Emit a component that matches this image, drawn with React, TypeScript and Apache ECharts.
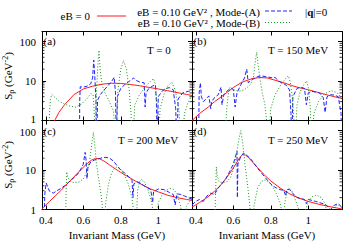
import React, { useEffect, useRef } from "react";
import * as echarts from "echarts";

const FONT = "Liberation Serif, Times New Roman, serif";
const RED = "#ff1a1a";
const BLUE = "#2020ff";
const GREEN = "#129912";

const X_MIN = 0.38;
const X_MAX = 1.18;
const Y_MIN = 1;
const Y_MAX = 180;

const panelTags = ["(a)", "(b)", "(c)", "(d)"];
const panelTemps = ["T = 0", "T = 150 MeV", "T = 200 MeV", "T = 250 MeV"];
const legendNames = ["eB = 0", "eB = 0.10 GeV² , Mode-(A)", "eB = 0.10 GeV² , Mode-(B)"];
const momentumNote = "|{b|q}|=0";
const xAxisTitle = "Invariant Mass (GeV)";
const yAxisTitle = "{t|S}{sub|ρ}{t| (GeV}{sup|-2}{t|)}";
const minorTickValues = [2, 3, 4, 5, 6, 7, 8, 9, 20, 30, 40, 50, 60, 70, 80, 90];

// ---- T = 0 ----
const redT0 = [[0.40, 0.35], [0.43, 0.7], [0.45, 1.05], [0.47, 1.6], [0.5, 2.5], [0.55, 4.5], [0.6, 6.3], [0.65, 7.4], [0.7, 8.3], [0.75, 8.8], [0.8, 8.7], [0.85, 8.2], [0.9, 7.6], [0.95, 6.9], [1.0, 6.3], [1.05, 5.7], [1.1, 5.1], [1.15, 4.6], [1.18, 4.3]];
const blueT0 = [[0.575, 0.2], [0.58, 0.2], [0.581, 3], [0.584, 7.2], [0.6, 7.0], [0.62, 7.4], [0.64, 8.5], [0.65, 12], [0.656, 34], [0.662, 12], [0.668, 3], [0.672, 0.2], [0.676, 3.2], [0.69, 4.5], [0.71, 5.8], [0.73, 7.5], [0.75, 9.5], [0.765, 12.5], [0.772, 5], [0.777, 0.2], [0.782, 4], [0.8, 6.5], [0.82, 8], [0.84, 9.5], [0.86, 11], [0.868, 12], [0.88, 10.5], [0.9, 9.5], [0.925, 9], [0.93, 2.2], [0.935, 5], [0.95, 6.5], [0.97, 7.5], [0.985, 8], [0.99, 3], [0.995, 0.2], [1.0, 4], [1.02, 5.5], [1.04, 6.5], [1.06, 6.8], [1.08, 6], [1.093, 2], [1.1, 0.2], [1.106, 3.5], [1.13, 5], [1.16, 5.5], [1.18, 5.6]];
const greenT0 = [[0.415, 0.2], [0.42, 1.5], [0.425, 3.5], [0.432, 4.6], [0.45, 3.8], [0.47, 3.1], [0.5, 2.6], [0.53, 2.3], [0.56, 2.2], [0.59, 2.6], [0.62, 3.6], [0.64, 4.8], [0.652, 4.5], [0.658, 2], [0.663, 0.3], [0.67, 5], [0.678, 25], [0.684, 60], [0.69, 20], [0.7, 8], [0.72, 4.5], [0.74, 3], [0.76, 1.8], [0.775, 0.3], [0.785, 6], [0.8, 20], [0.815, 33], [0.83, 20], [0.845, 6], [0.855, 1.5], [0.862, 0.2], [0.875, 2.5], [0.9, 4.5], [0.93, 7], [0.96, 10], [0.975, 11.5], [0.985, 8], [0.995, 2], [1.0, 0.2], [1.01, 2], [1.03, 4.5], [1.05, 7.5], [1.072, 9.3], [1.09, 6], [1.11, 2], [1.125, 0.2], [1.14, 1.5], [1.16, 3], [1.18, 4.3]];

// ---- T = 150 MeV ----
const redT150 = [[0.38, 1.0], [0.42, 1.5], [0.467, 2.2], [0.5, 3.0], [0.53, 3.8], [0.556, 4.7], [0.6, 6.8], [0.645, 9.3], [0.7, 11.5], [0.743, 12.3], [0.78, 12], [0.823, 10.5], [0.87, 9], [0.912, 7.7], [0.95, 6.8], [1.0, 6.0], [1.05, 5.2], [1.089, 4.6], [1.13, 4.1], [1.18, 3.6]];
const blueT150 = [[0.415, 0.2], [0.418, 5], [0.425, 9], [0.43, 4], [0.44, 3], [0.455, 3.5], [0.47, 4.2], [0.48, 2], [0.485, 3], [0.5, 3.8], [0.52, 4.5], [0.535, 7], [0.54, 2.5], [0.55, 4.5], [0.57, 5.8], [0.59, 6.5], [0.6, 6.2], [0.61, 2.2], [0.62, 5], [0.64, 8], [0.66, 12], [0.672, 20], [0.68, 9], [0.69, 10], [0.71, 11.5], [0.73, 13], [0.75, 13.5], [0.77, 13], [0.79, 12.5], [0.81, 12], [0.823, 12.5], [0.84, 10], [0.86, 9], [0.88, 8], [0.9, 6], [0.908, 1.5], [0.912, 0.2], [0.918, 4], [0.94, 6.5], [0.96, 7], [0.98, 6.5], [0.99, 2.5], [1.0, 5], [1.02, 5.5], [1.04, 5.2], [1.06, 5], [1.08, 3.8], [1.09, 1.6], [1.1, 4], [1.12, 4.5], [1.14, 4.4], [1.16, 4], [1.175, 1.5], [1.178, 0.2]];
const greenT150 = [[0.55, 0.2], [0.556, 0.3], [0.565, 2], [0.575, 5], [0.583, 7], [0.6, 6], [0.63, 5.5], [0.66, 6], [0.69, 8], [0.707, 12], [0.717, 30], [0.725, 54], [0.733, 25], [0.743, 11], [0.755, 5], [0.769, 2.5], [0.78, 0.8], [0.787, 0.2], [0.8, 2], [0.823, 4.5], [0.85, 7.5], [0.875, 11], [0.894, 13.6], [0.905, 9], [0.915, 4], [0.925, 0.8], [0.929, 0.2], [0.94, 2.5], [0.956, 5.2], [0.975, 8], [0.991, 10], [1.0, 7], [1.01, 2.5], [1.018, 0.2], [1.03, 1.5], [1.054, 3], [1.08, 4.5], [1.11, 5.4], [1.125, 5.6], [1.15, 5.2], [1.165, 4.4], [1.18, 3.4]];

// ---- T = 200 MeV ----
const redT200 = [[0.38, 1.05], [0.42, 1.6], [0.45, 2.2], [0.48, 3.0], [0.5, 3.8], [0.53, 5.3], [0.56, 7.5], [0.59, 10.5], [0.62, 14.5], [0.645, 18], [0.665, 19.5], [0.685, 19.5], [0.71, 17], [0.74, 13.5], [0.77, 10.8], [0.8, 8.7], [0.84, 6.7], [0.88, 5.2], [0.92, 4.1], [0.96, 3.3], [1.0, 2.8], [1.05, 2.3], [1.1, 2.0], [1.15, 1.8], [1.18, 1.7]];
const blueT200 = [[0.39, 0.2], [0.395, 2.5], [0.402, 4.7], [0.41, 3.8], [0.42, 2.9], [0.44, 2.6], [0.46, 3.0], [0.48, 3.4], [0.5, 4.0], [0.52, 4.8], [0.54, 5.8], [0.56, 7], [0.58, 9], [0.6, 14], [0.61, 28], [0.615, 18], [0.62, 6], [0.625, 12], [0.64, 16], [0.66, 18], [0.68, 19], [0.7, 20.5], [0.72, 21], [0.74, 20], [0.76, 17], [0.78, 13], [0.8, 10], [0.82, 8.5], [0.84, 7], [0.86, 5.5], [0.865, 2], [0.87, 4.5], [0.89, 5], [0.91, 4.5], [0.93, 3.8], [0.945, 3.5], [0.96, 3.2], [0.97, 1.5], [0.975, 2.8], [1.0, 3.3], [1.03, 3.2], [1.06, 2.7], [1.08, 2.4], [1.09, 1.3], [1.1, 2.5], [1.12, 2.4], [1.14, 2.2], [1.16, 2], [1.18, 1.8]];
const greenT200 = [[0.505, 0.2], [0.508, 2], [0.512, 9], [0.518, 6.5], [0.53, 5.2], [0.55, 4.8], [0.58, 5], [0.6, 6], [0.62, 9], [0.635, 18], [0.645, 45], [0.654, 90], [0.662, 40], [0.67, 15], [0.68, 7], [0.69, 3.5], [0.7, 1.5], [0.71, 0.2], [0.72, 1.5], [0.735, 4.5], [0.75, 8], [0.765, 11], [0.78, 12], [0.8, 10.5], [0.82, 7.5], [0.84, 4.5], [0.86, 2], [0.875, 0.5], [0.88, 0.2], [0.89, 3], [0.9, 5], [0.91, 5.8], [0.925, 5], [0.945, 3.2], [0.965, 1.5], [0.98, 0.5], [0.985, 0.2], [1.0, 1.5], [1.03, 2.8], [1.06, 3.4], [1.08, 3.3], [1.1, 2.5], [1.12, 1.2], [1.13, 0.2], [1.15, 1.2], [1.18, 2]];

// ---- T = 250 MeV ----
const redT250 = [[0.38, 1.15], [0.42, 1.5], [0.46, 2.0], [0.5, 2.9], [0.53, 4.0], [0.56, 6.0], [0.59, 9.5], [0.615, 14.5], [0.635, 21], [0.65, 24.5], [0.665, 24], [0.68, 21], [0.7, 16.5], [0.73, 11.5], [0.76, 8], [0.8, 5.3], [0.85, 3.5], [0.9, 2.5], [0.95, 1.95], [1.0, 1.6], [1.05, 1.38], [1.1, 1.22], [1.15, 1.1], [1.18, 1.03]];
const blueT250 = [[0.38, 1.3], [0.4, 1.6], [0.42, 1.8], [0.44, 1.6], [0.46, 2.2], [0.48, 2.6], [0.5, 2.4], [0.52, 3.5], [0.54, 4.5], [0.56, 6], [0.58, 9], [0.6, 14], [0.615, 25], [0.62, 30], [0.622, 2], [0.625, 14], [0.64, 22], [0.655, 27], [0.67, 24], [0.69, 20], [0.71, 15], [0.73, 11], [0.75, 8.5], [0.77, 6.5], [0.79, 5], [0.81, 4], [0.83, 3.5], [0.85, 3.2], [0.87, 3], [0.88, 2.2], [0.885, 3.2], [0.9, 3.2], [0.92, 2.5], [0.94, 2], [0.96, 1.9], [0.98, 1.8], [0.99, 1.4], [1.0, 1.8], [1.04, 1.6], [1.08, 1.4], [1.1, 1.25], [1.12, 1.0], [1.14, 1.3], [1.16, 1.4], [1.175, 1.2], [1.18, 0.9]];
const greenT250 = [[0.5, 0.2], [0.505, 2], [0.51, 12], [0.515, 7], [0.525, 5], [0.545, 4.8], [0.565, 5], [0.585, 6.5], [0.6, 10], [0.615, 22], [0.63, 60], [0.64, 100], [0.65, 50], [0.66, 18], [0.67, 7], [0.68, 3], [0.69, 1], [0.695, 0.2], [0.71, 1.2], [0.73, 3.5], [0.75, 5.2], [0.77, 5.6], [0.79, 5], [0.81, 3.8], [0.83, 2.5], [0.85, 1.5], [0.86, 0.8], [0.865, 0.2], [0.875, 1.5], [0.89, 3.2], [0.9, 3.5], [0.915, 2.8], [0.93, 1.8], [0.95, 1.0], [0.96, 0.3], [0.97, 0.2], [0.98, 0.8], [1.0, 1.6], [1.02, 2.1], [1.045, 2.3], [1.07, 2.0], [1.09, 1.4], [1.1, 0.8], [1.105, 0.2], [1.12, 0.8], [1.14, 1.2], [1.16, 1.3], [1.18, 1.1]];

const redSets = [redT0, redT150, redT200, redT250];
const blueSets = [blueT0, blueT150, blueT200, blueT250];
const greenSets = [greenT0, greenT150, greenT200, greenT250];

// layout (pixels)
const GRID_W = 150;
const GRID_H = 89;
const gridPos = [[42, 31.5], [192, 31.5], [42, 120.5], [192, 120.5]];
const tagPos = [[43.5, 41], [193.5, 41], [43.5, 131], [193.5, 131]];
const tempPos = [[147, 50], [268, 50], [118, 140], [268, 140]];

const xFmt = (v: number) => {
  const k = v * 5;
  if (Math.abs(k - Math.round(k)) > 1e-6) return "";
  return String(Math.round(v * 10) / 10);
};
const makeYFmt = (topRow: boolean) => (v: number) => {
  const l = Math.log10(v);
  if (Math.abs(l - Math.round(l)) > 1e-6) return "";
  const s = String(Math.round(v));
  if (topRow && Math.round(l) === 0) return "{lo|" + s + "}";
  if (!topRow && Math.round(l) === 2) return "{hi|" + s + "}";
  return s;
};

function buildOption() {
  const grid: any[] = [];
  const xAxis: any[] = [];
  const yAxis: any[] = [];
  const series: any[] = [];
  const tick = { inside: true, length: 4, lineStyle: { color: "#000", width: 1 } };
  const line = { show: true, onZero: false, lineStyle: { color: "#000", width: 1 } };
  const labelBase = { color: "#000", fontFamily: FONT, fontSize: 11 };
  for (let i = 0; i < 4; i++) {
    const bottomRow = i >= 2;
    const leftCol = i % 2 === 0;
    grid.push({ left: gridPos[i][0], top: gridPos[i][1], width: GRID_W, height: GRID_H });
    const xBase = {
      type: "value", gridIndex: i, min: X_MIN, max: X_MAX, splitNumber: 4,
      axisLine: line, axisTick: tick, splitLine: { show: false },
    };
    xAxis.push({
      ...xBase, position: "bottom",
      axisLabel: { ...labelBase, show: bottomRow, margin: 5, formatter: xFmt },
      name: bottomRow ? xAxisTitle : "", nameLocation: "middle", nameGap: 20,
      nameTextStyle: { ...labelBase },
    });
    xAxis.push({ ...xBase, position: "top", axisLabel: { show: false } });
    const yBase = {
      type: "log", logBase: 10, gridIndex: i, min: Y_MIN, max: Y_MAX,
      axisLine: line, axisTick: tick, splitLine: { show: false }, minorTick: { show: false },
    };
    yAxis.push({
      ...yBase, position: "left",
      axisLabel: {
        ...labelBase, show: leftCol, margin: 6, formatter: makeYFmt(!bottomRow),
        rich: {
          lo: { fontFamily: FONT, fontSize: 11, color: "#000", padding: [0, 0, 4, 0] },
          hi: { fontFamily: FONT, fontSize: 11, color: "#000", padding: [3, 0, 0, 0] },
        },
      },
      name: leftCol ? yAxisTitle : "", nameLocation: "middle", nameGap: 27, nameRotate: 90,
      nameTextStyle: {
        ...labelBase,
        rich: {
          t: { fontFamily: FONT, fontSize: 11, color: "#000", lineHeight: 14, verticalAlign: "middle" },
          sub: { fontFamily: FONT, fontSize: 8, color: "#000", lineHeight: 14, verticalAlign: "bottom" },
          sup: { fontFamily: FONT, fontSize: 8, color: "#000", lineHeight: 14, verticalAlign: "top" },
        },
      },
    });
    yAxis.push({ ...yBase, position: "right", axisLabel: { show: false } });
    const common = {
      type: "line", xAxisIndex: 2 * i, yAxisIndex: 2 * i, showSymbol: false, symbol: "none",
      clip: true, silent: true,
    };
    series.push({ ...common, name: legendNames[0], data: redSets[i], z: 2, lineStyle: { color: RED, width: 1 } });
    series.push({ ...common, name: legendNames[1], data: blueSets[i], z: 3, lineStyle: { color: BLUE, width: 1, type: [4, 2] } });
    series.push({ ...common, name: legendNames[2], data: greenSets[i], z: 4, lineStyle: { color: GREEN, width: 1, type: [1, 2] } });
  }
  return { animation: false, backgroundColor: "#fff", textStyle: { fontFamily: FONT }, grid, xAxis, yAxis, series };
}

function staticGraphics() {
  const txt = (text: string, x: number, y: number, align: string, extra: any = {}) => ({
    type: "text", x, y, silent: true,
    style: { text, fill: "#000", fontFamily: FONT, fontSize: 11, align, verticalAlign: "middle", textAlign: align, textVerticalAlign: "middle", ...extra },
  });
  const seg = (x1: number, x2: number, y: number, stroke: string, dash?: number[]) => ({
    type: "line", silent: true, shape: { x1, y1: y, x2, y2: y },
    style: { stroke, lineWidth: 1, lineDash: dash },
  });
  const els: any[] = [
    txt(legendNames[0], 90, 16, "right"),
    seg(97, 126, 16, RED),
    txt(legendNames[1], 260, 11.5, "right"),
    seg(265, 292, 11, BLUE, [4, 2]),
    txt(legendNames[2], 260, 23, "right"),
    seg(265, 292, 22.5, GREEN, [1, 2]),
    txt(momentumNote, 305, 11.5, "left", {
      rich: { b: { fontFamily: FONT, fontSize: 11, fontWeight: "bold", fill: "#000" } },
    }),
  ];
  for (let i = 0; i < 4; i++) {
    els.push(txt(panelTags[i], tagPos[i][0], tagPos[i][1], "left"));
    els.push(txt(panelTemps[i], tempPos[i][0], tempPos[i][1], "left"));
  }
  return els;
}

export default function App() {
  const ref = useRef<HTMLDivElement>(null);
  useEffect(() => {
    if (!ref.current) return;
    const chart = echarts.init(ref.current, null, { renderer: "svg" });
    chart.setOption(buildOption());
    const minor: any[] = [];
    for (let i = 0; i < 4; i++) {
      const finder = { xAxisIndex: 2 * i, yAxisIndex: 2 * i };
      for (const v of minorTickValues) {
        const p = chart.convertToPixel(finder, [X_MIN, v]) as number[];
        const q = chart.convertToPixel(finder, [X_MAX, v]) as number[];
        minor.push({ type: "line", silent: true, shape: { x1: p[0], y1: p[1], x2: p[0] + 2.5, y2: p[1] }, style: { stroke: "#000", lineWidth: 0.8 } });
        minor.push({ type: "line", silent: true, shape: { x1: q[0], y1: q[1], x2: q[0] - 2.5, y2: q[1] }, style: { stroke: "#000", lineWidth: 0.8 } });
      }
    }
    chart.setOption({ graphic: { elements: [...staticGraphics(), ...minor] } });
    return () => chart.dispose();
  }, []);
  return (
    <div
      ref={ref}
      style={{ position: "fixed", left: 0, top: 0, width: 350, height: 245, background: "#fff" }}
    />
  );
}
